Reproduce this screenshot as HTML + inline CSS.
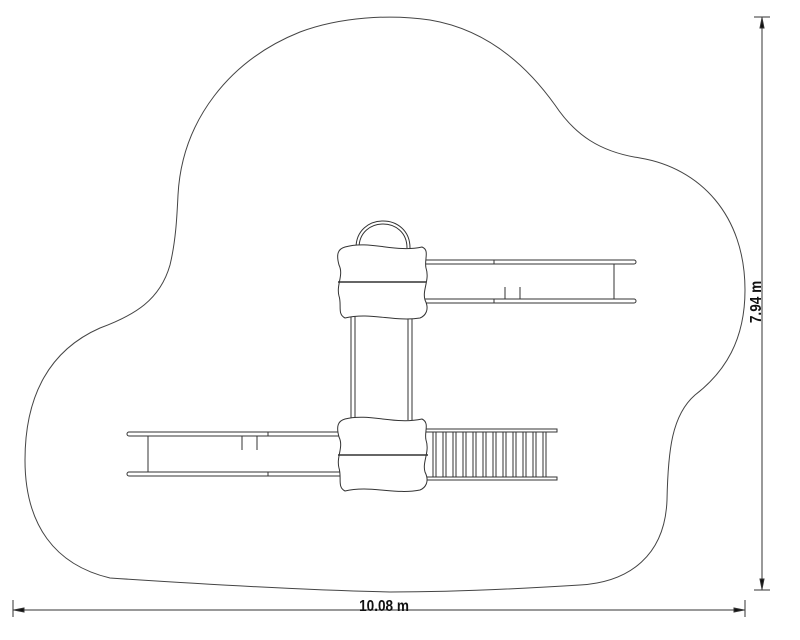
<!DOCTYPE html>
<html><head><meta charset="utf-8"><style>html,body{margin:0;padding:0;background:#fff;width:800px;height:640px;overflow:hidden}</style></head>
<body>
<svg width="800" height="640" viewBox="0 0 800 640" xmlns="http://www.w3.org/2000/svg" font-family="Liberation Sans, sans-serif">
<g fill="none" stroke="#444" stroke-width="1">
<path d="M178 195 C182 120 230 60 300 32 C340 17 390 14 430 20 C490 30 530 70 555 105 C575 135 600 152 640 158 C700 168 745 215 745 290 C745 340 725 372 695 395 C672 415 668 450 667 500 C665 555 630 582 580 585 C500 590 440 592 390 592 C300 590 200 584 110 578 C55 565 25 525 25 460 C25 395 50 350 100 328 C135 315 160 300 170 265 C176 240 177 215 178 195 Z"/>
</g>
<g fill="#fff" stroke="#333" stroke-width="1">
<line x1="351" y1="316" x2="351" y2="420"/><line x1="355" y1="316" x2="355" y2="420"/>
<line x1="408" y1="316" x2="408" y2="420"/><line x1="412" y1="316" x2="412" y2="420"/>
<path d="M356 248 C356 212 410 212 410 248"/><path d="M359 248 C359 216 407 216 407 248"/>
<path d="M425 260 H634 a2 2 0 0 1 0 4 H425"/>
<path d="M425 299 H634 a2 2 0 0 1 0 4 H425"/>
<line x1="614" y1="264" x2="614" y2="299"/>
<line x1="494" y1="260" x2="494" y2="264"/><line x1="494" y1="299" x2="494" y2="303"/>
<line x1="505" y1="287" x2="505" y2="299"/><line x1="520" y1="287" x2="520" y2="299"/>
<path d="M340 432 H129 a2 2 0 0 0 0 4 H340"/>
<path d="M340 472 H129 a2 2 0 0 0 0 4 H340"/>
<line x1="148" y1="436" x2="148" y2="472"/>
<line x1="268" y1="432" x2="268" y2="436"/><line x1="268" y1="472" x2="268" y2="476"/>
<line x1="242" y1="436" x2="242" y2="450"/><line x1="257" y1="436" x2="257" y2="450"/>
<path d="M426 429 H557 V432 H426"/>
<path d="M426 477 H557 V480 H426"/>
<g>
<line x1="433" y1="432" x2="433" y2="477"/><line x1="436" y1="432" x2="436" y2="477"/>
<line x1="443" y1="432" x2="443" y2="477"/><line x1="446" y1="432" x2="446" y2="477"/>
<line x1="453" y1="432" x2="453" y2="477"/><line x1="456" y1="432" x2="456" y2="477"/>
<line x1="463" y1="432" x2="463" y2="477"/><line x1="466" y1="432" x2="466" y2="477"/>
<line x1="473" y1="432" x2="473" y2="477"/><line x1="476" y1="432" x2="476" y2="477"/>
<line x1="483" y1="432" x2="483" y2="477"/><line x1="486" y1="432" x2="486" y2="477"/>
<line x1="493" y1="432" x2="493" y2="477"/><line x1="496" y1="432" x2="496" y2="477"/>
<line x1="503" y1="432" x2="503" y2="477"/><line x1="506" y1="432" x2="506" y2="477"/>
<line x1="513" y1="432" x2="513" y2="477"/><line x1="516" y1="432" x2="516" y2="477"/>
<line x1="523" y1="432" x2="523" y2="477"/><line x1="526" y1="432" x2="526" y2="477"/>
<line x1="533" y1="432" x2="533" y2="477"/><line x1="536" y1="432" x2="536" y2="477"/>
<line x1="543" y1="432" x2="543" y2="477"/><line x1="546" y1="432" x2="546" y2="477"/>
</g>
<path d="M345 247 C370 240 395 253 422 247 C430 250 424 260 426 268 C430 280 422 290 425 300 C430 310 425 316 420 318 C395 322 370 312 345 318 C337 314 342 305 339 296 C336 285 344 275 339 265 C336 254 338 249 345 247 Z"/>
<line x1="338" y1="282" x2="426" y2="282" stroke-width="1.6"/>
<path d="M345 419 C370 413 395 425 422 419 C430 423 424 432 426 440 C430 452 422 462 425 472 C430 482 425 488 420 490 C395 495 370 485 345 491 C337 487 342 478 339 468 C336 457 344 447 339 437 C336 426 338 421 345 419 Z"/>
<line x1="338" y1="455" x2="428" y2="455" stroke-width="1.6"/>
</g>
<g stroke="#333" stroke-width="1" fill="#111">
<line x1="13" y1="610" x2="745" y2="610"/>
<line x1="13" y1="600" x2="13" y2="617"/><line x1="745" y1="600" x2="745" y2="617"/>
<polygon points="14,610 24,608 24,612"/><polygon points="744,610 734,608 734,612"/>
<line x1="762" y1="17" x2="762" y2="590"/>
<line x1="754" y1="17" x2="770" y2="17"/><line x1="754" y1="590" x2="770" y2="590"/>
<polygon points="762,18 760,28 764,28"/><polygon points="762,589 760,579 764,579"/>
</g>
<text x="0" y="0" font-size="16" font-weight="bold" text-anchor="middle" fill="#111" transform="translate(384 611) scale(0.85 1)">10.08 m</text>
<text x="0" y="0" font-size="16" font-weight="bold" text-anchor="middle" fill="#111" transform="translate(761 302) rotate(-90) scale(0.85 1)">7.94 m</text>
</svg>
</body></html>
